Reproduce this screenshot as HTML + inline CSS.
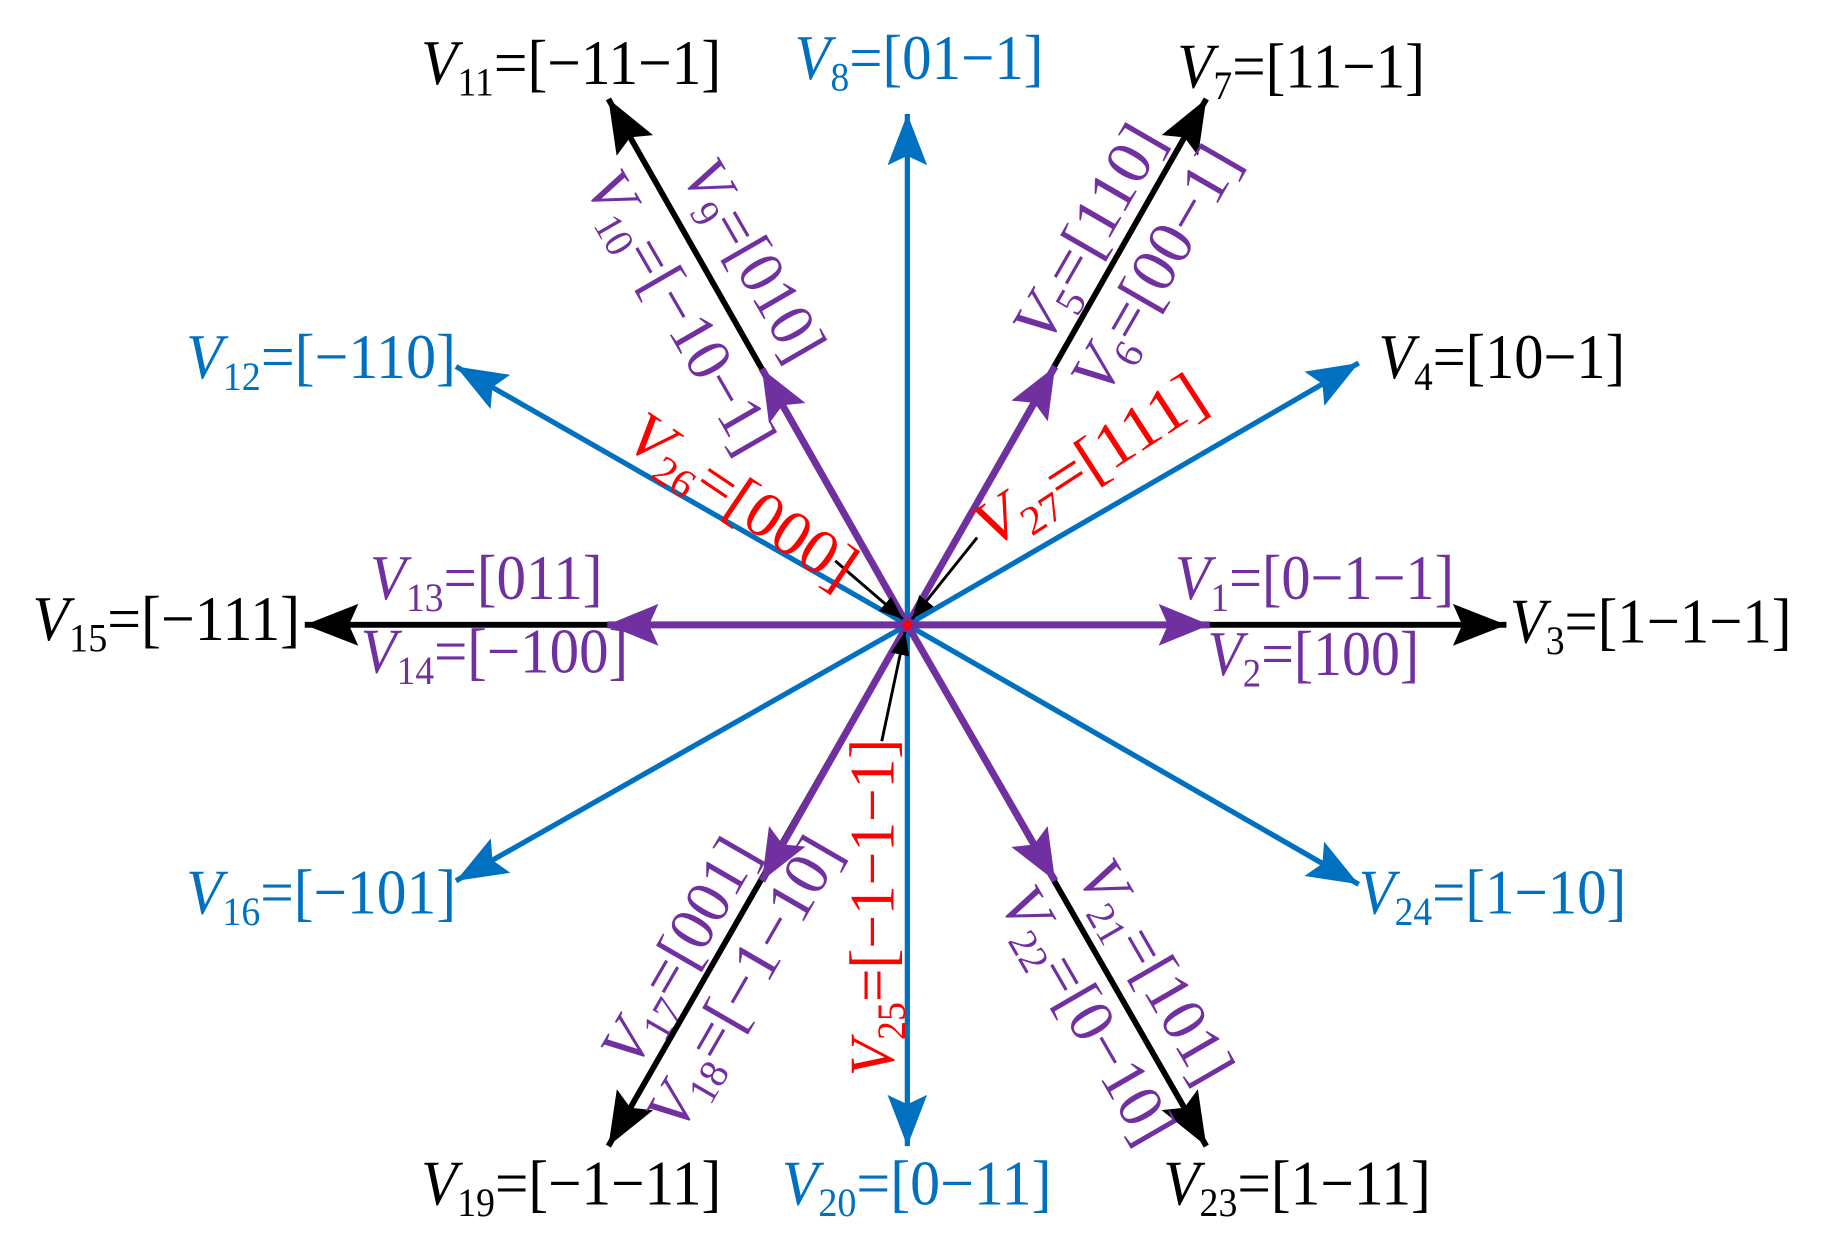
<!DOCTYPE html>
<html><head><meta charset="utf-8"><style>
html,body{margin:0;padding:0;background:#fff;}
svg{display:block;}
text{font-family:"Liberation Serif","DejaVu Serif",serif;font-size:55px;}
.i{font-style:italic;}
.s{font-size:35px;}
</style></head><body>
<svg width="1824" height="1252" viewBox="0 0 1568 1076" preserveAspectRatio="none" xmlns="http://www.w3.org/2000/svg">
<defs>
<marker id="mk" markerUnits="userSpaceOnUse" markerWidth="54" markerHeight="42" refX="46" refY="18" orient="auto"><path d="M0,0 L46,18 L0,36 L8,18 Z" fill="#000"/></marker>
<marker id="mb" markerUnits="userSpaceOnUse" markerWidth="54" markerHeight="42" refX="44" refY="17" orient="auto"><path d="M0,0 L44,17 L0,34 L8,17 Z" fill="#0070C0"/></marker>
<marker id="mp" markerUnits="userSpaceOnUse" markerWidth="54" markerHeight="42" refX="44" refY="18" orient="auto"><path d="M0,0 L44,18 L0,36 L8,18 Z" fill="#7030A0"/></marker>
<marker id="ms" markerUnits="userSpaceOnUse" markerWidth="24" markerHeight="20" refX="20" refY="8" orient="auto"><path d="M0,0 L20,8 L0,16 Z" fill="#000"/></marker>
</defs>
<g stroke-linecap="butt">
<g stroke="#0070C0" stroke-width="4.5" fill="none">
<line x1="780" y1="537" x2="780" y2="98" marker-end="url(#mb)"/>
<line x1="780" y1="537" x2="780" y2="985" marker-end="url(#mb)"/>
<line x1="780" y1="537" x2="1168" y2="312" marker-end="url(#mb)"/>
<line x1="780" y1="537" x2="392" y2="315" marker-end="url(#mb)"/>
<line x1="780" y1="537" x2="392" y2="757" marker-end="url(#mb)"/>
<line x1="780" y1="537" x2="1168" y2="760" marker-end="url(#mb)"/>
</g>
<g stroke="#000" stroke-width="5" fill="none">
<line x1="780" y1="537" x2="1295" y2="537" marker-end="url(#mk)"/>
<line x1="780" y1="537" x2="262" y2="537" marker-end="url(#mk)"/>
<line x1="780" y1="537" x2="1037" y2="85" marker-end="url(#mk)"/>
<line x1="780" y1="537" x2="523" y2="85" marker-end="url(#mk)"/>
<line x1="780" y1="537" x2="523" y2="985" marker-end="url(#mk)"/>
<line x1="780" y1="537" x2="1037" y2="985" marker-end="url(#mk)"/>
</g>
<g stroke="#7030A0" stroke-width="6" fill="none">
<line x1="780" y1="537" x2="1040" y2="537" marker-end="url(#mp)"/>
<line x1="780" y1="537" x2="522" y2="537" marker-end="url(#mp)"/>
<line x1="780" y1="537" x2="907" y2="315" marker-end="url(#mp)"/>
<line x1="780" y1="537" x2="655" y2="317" marker-end="url(#mp)"/>
<line x1="780" y1="537" x2="655" y2="757" marker-end="url(#mp)"/>
<line x1="780" y1="537" x2="907" y2="757" marker-end="url(#mp)"/>
</g>
<g stroke="#000" stroke-width="2.5" fill="none">
<line x1="718" y1="482" x2="776" y2="532" marker-end="url(#ms)"/>
<line x1="840" y1="462" x2="784" y2="532" marker-end="url(#ms)"/>
<line x1="758" y1="637" x2="778" y2="543" marker-end="url(#ms)"/>
</g>
<circle cx="780" cy="537" r="4" fill="#FF0000"/>
</g>

<text x="362" y="72" fill="#000" textLength="258" lengthAdjust="spacingAndGlyphs"><tspan class="i">V</tspan><tspan class="s" dy="10">11</tspan><tspan dy="-10">=[−11−1]</tspan></text>
<text x="683" y="68" fill="#0070C0" textLength="214" lengthAdjust="spacingAndGlyphs"><tspan class="i">V</tspan><tspan class="s" dy="10">8</tspan><tspan dy="-10">=[01−1]</tspan></text>
<text x="1012" y="75" fill="#000" textLength="213" lengthAdjust="spacingAndGlyphs"><tspan class="i">V</tspan><tspan class="s" dy="10">7</tspan><tspan dy="-10">=[11−1]</tspan></text>
<text x="160" y="325" fill="#0070C0" textLength="232" lengthAdjust="spacingAndGlyphs"><tspan class="i">V</tspan><tspan class="s" dy="10">12</tspan><tspan dy="-10">=[−110]</tspan></text>
<text x="1185" y="325" fill="#000" textLength="212" lengthAdjust="spacingAndGlyphs"><tspan class="i">V</tspan><tspan class="s" dy="10">4</tspan><tspan dy="-10">=[10−1]</tspan></text>
<text x="28" y="550" fill="#000" textLength="230" lengthAdjust="spacingAndGlyphs"><tspan class="i">V</tspan><tspan class="s" dy="10">15</tspan><tspan dy="-10">=[−111]</tspan></text>
<text x="318" y="515" fill="#7030A0" textLength="200" lengthAdjust="spacingAndGlyphs"><tspan class="i">V</tspan><tspan class="s" dy="10">13</tspan><tspan dy="-10">=[011]</tspan></text>
<text x="310" y="578" fill="#7030A0" textLength="230" lengthAdjust="spacingAndGlyphs"><tspan class="i">V</tspan><tspan class="s" dy="10">14</tspan><tspan dy="-10">=[−100]</tspan></text>
<text x="1010" y="515" fill="#7030A0" textLength="240" lengthAdjust="spacingAndGlyphs"><tspan class="i">V</tspan><tspan class="s" dy="10">1</tspan><tspan dy="-10">=[0−1−1]</tspan></text>
<text x="1038" y="580" fill="#7030A0" textLength="182" lengthAdjust="spacingAndGlyphs"><tspan class="i">V</tspan><tspan class="s" dy="10">2</tspan><tspan dy="-10">=[100]</tspan></text>
<text x="1298" y="552" fill="#000" textLength="242" lengthAdjust="spacingAndGlyphs"><tspan class="i">V</tspan><tspan class="s" dy="10">3</tspan><tspan dy="-10">=[1−1−1]</tspan></text>
<text x="160" y="785" fill="#0070C0" textLength="232" lengthAdjust="spacingAndGlyphs"><tspan class="i">V</tspan><tspan class="s" dy="10">16</tspan><tspan dy="-10">=[−101]</tspan></text>
<text x="1168" y="785" fill="#0070C0" textLength="230" lengthAdjust="spacingAndGlyphs"><tspan class="i">V</tspan><tspan class="s" dy="10">24</tspan><tspan dy="-10">=[1−10]</tspan></text>
<text x="362" y="1035" fill="#000" textLength="258" lengthAdjust="spacingAndGlyphs"><tspan class="i">V</tspan><tspan class="s" dy="10">19</tspan><tspan dy="-10">=[−1−11]</tspan></text>
<text x="672" y="1035" fill="#0070C0" textLength="232" lengthAdjust="spacingAndGlyphs"><tspan class="i">V</tspan><tspan class="s" dy="10">20</tspan><tspan dy="-10">=[0−11]</tspan></text>
<text x="1000" y="1035" fill="#000" textLength="230" lengthAdjust="spacingAndGlyphs"><tspan class="i">V</tspan><tspan class="s" dy="10">23</tspan><tspan dy="-10">=[1−11]</tspan></text>

<text transform="translate(585,150) rotate(60)" fill="#7030A0" textLength="190" lengthAdjust="spacingAndGlyphs"><tspan class="i">V</tspan><tspan class="s" dy="10">9</tspan><tspan dy="-10">=[010]</tspan></text>
<text transform="translate(502,160) rotate(60)" fill="#7030A0" textLength="270" lengthAdjust="spacingAndGlyphs"><tspan class="i">V</tspan><tspan class="s" dy="10">10</tspan><tspan dy="-10">=[−10−1]</tspan></text>
<text transform="translate(900,298) rotate(-60)" fill="#7030A0" textLength="205" lengthAdjust="spacingAndGlyphs"><tspan class="i">V</tspan><tspan class="s" dy="10">5</tspan><tspan dy="-10">=[110]</tspan></text>
<text transform="translate(950,342) rotate(-60)" fill="#7030A0" textLength="235" lengthAdjust="spacingAndGlyphs"><tspan class="i">V</tspan><tspan class="s" dy="10">6</tspan><tspan dy="-10">=[00−1]</tspan></text>
<text transform="translate(546,920) rotate(-60)" fill="#7030A0" textLength="215" lengthAdjust="spacingAndGlyphs"><tspan class="i">V</tspan><tspan class="s" dy="10">17</tspan><tspan dy="-10">=[001]</tspan></text>
<text transform="translate(585,975) rotate(-60)" fill="#7030A0" textLength="280" lengthAdjust="spacingAndGlyphs"><tspan class="i">V</tspan><tspan class="s" dy="10">18</tspan><tspan dy="-10">=[−1−10]</tspan></text>
<text transform="translate(925,752) rotate(60)" fill="#7030A0" textLength="212" lengthAdjust="spacingAndGlyphs"><tspan class="i">V</tspan><tspan class="s" dy="10">21</tspan><tspan dy="-10">=[101]</tspan></text>
<text transform="translate(858,775) rotate(60)" fill="#7030A0" textLength="245" lengthAdjust="spacingAndGlyphs"><tspan class="i">V</tspan><tspan class="s" dy="10">22</tspan><tspan dy="-10">=[0−10]</tspan></text>
<text transform="translate(768,925) rotate(-90)" fill="#FF0000" textLength="290" lengthAdjust="spacingAndGlyphs"><tspan class="i">V</tspan><tspan class="s" dy="10">25</tspan><tspan dy="-10">=[−1−1−1]</tspan></text>
<text transform="translate(535,382) rotate(34)" fill="#FF0000" textLength="225" lengthAdjust="spacingAndGlyphs"><tspan class="i">V</tspan><tspan class="s" dy="10">26</tspan><tspan dy="-10">=[000]</tspan></text>
<text transform="translate(852,472) rotate(-33)" fill="#FF0000" textLength="225" lengthAdjust="spacingAndGlyphs"><tspan class="i">V</tspan><tspan class="s" dy="10">27</tspan><tspan dy="-10">=[111]</tspan></text>
</svg>
</body></html>
